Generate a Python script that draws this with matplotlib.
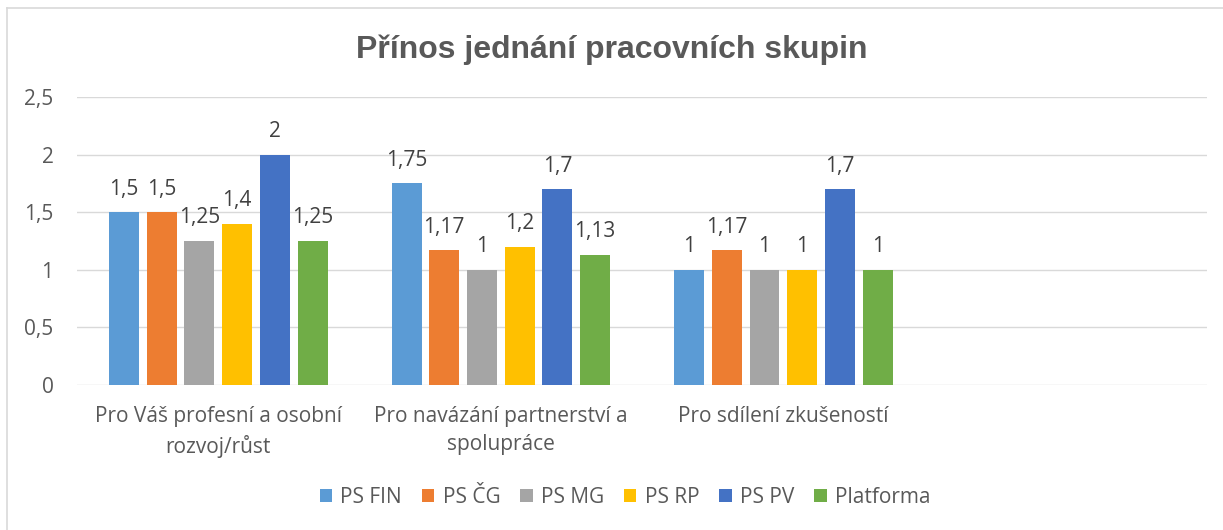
import matplotlib.pyplot as plt
import numpy as np
from matplotlib.lines import Line2D

plt.rcParams['font.family'] = ['Open Sans', 'DejaVu Sans']

categories = ['Pro Váš profesní a osobní\nrozvoj/růst',
              'Pro navázání partnerství a\nspolupráce',
              'Pro sdílení zkušeností',
              '']
series = ['PS FIN', 'PS ČG', 'PS MG', 'PS RP', 'PS PV', 'Platforma']
colors = ['#5B9BD5', '#ED7D31', '#A5A5A5', '#FFC000', '#4472C4', '#70AD47']
ps_fin = [1.5, 1.75, 1]
ps_cg = [1.5, 1.17, 1.17]
ps_mg = [1.25, 1, 1]
ps_rp = [1.4, 1.2, 1]
ps_pv = [2, 1.7, 1.7]
platforma = [1.25, 1.13, 1]
values = [ps_fin, ps_cg, ps_mg, ps_rp, ps_pv, platforma]

fig = plt.figure(figsize=(12.23, 5.3), dpi=100)
ax = fig.add_axes([0.063, 0.2736, 0.924, 0.5434])

# chart frame is cropped: only the left and top edges show
fig.lines.append(Line2D([0.006, 0.006], [0, 0.985], transform=fig.transFigure,
                        color='#D9D9D9', linewidth=1.2))
fig.lines.append(Line2D([0.006, 1], [0.985, 0.985], transform=fig.transFigure,
                        color='#D9D9D9', linewidth=1.2))

x = np.arange(len(categories))
step = 0.1335
width = 0.106
for i, (name, vals, c) in enumerate(zip(series, values, colors)):
    pos = x[:len(vals)] + (i - 2.5) * step
    bars = ax.bar(pos, vals, width, color=c, label=name, zorder=3)
    labels = [f'{v:g}'.replace('.', ',') for v in vals]
    ax.bar_label(bars, labels=labels, padding=9, fontsize=15, color='#404040')

ax.set_xlim(-0.5, len(categories) - 0.5)
ax.set_ylim(0, 2.5)
ax.set_yticks(np.arange(0, 2.51, 0.5))
ax.set_yticklabels([f'{t:g}'.replace('.', ',') for t in np.arange(0, 2.51, 0.5)])
ax.set_xticks(x)
ax.set_xticklabels(categories, linespacing=1.45)
ax.tick_params(axis='both', length=0, labelsize=15, labelcolor='#595959')
ax.tick_params(axis='x', pad=15)
ax.tick_params(axis='y', pad=17)
ax.grid(axis='y', color='#D9D9D9', linewidth=1, zorder=0)
for s in ax.spines.values():
    s.set_visible(False)

fig.suptitle('Přínos jednání pracovních skupin', y=0.935, fontsize=23,
             fontweight='bold', color='#595959', family='Liberation Sans')

fig.legend(loc='center', bbox_to_anchor=(0.511, 0.062), ncol=6, frameon=False,
           fontsize=15, handlelength=0.6, handleheight=0.6, columnspacing=0.95,
           handletextpad=0.4, labelcolor='#595959')

fig.savefig('out.png', dpi=100)
